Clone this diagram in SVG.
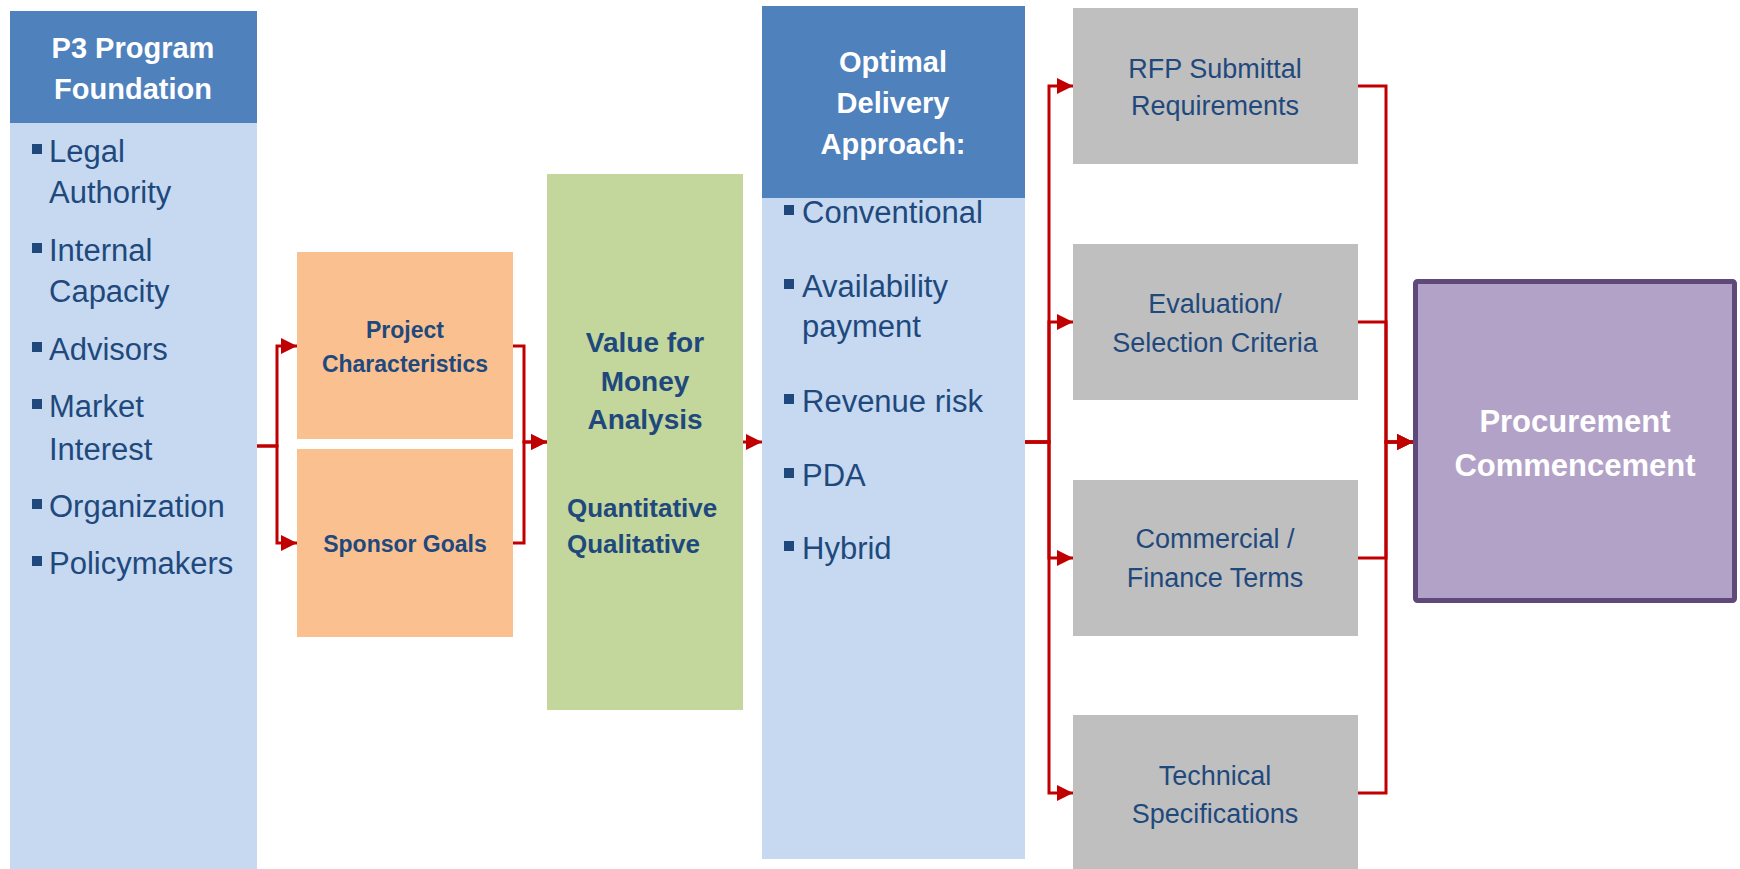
<svg xmlns="http://www.w3.org/2000/svg" width="1740" height="869" viewBox="0 0 1740 869">
  <style>
    text { font-family: "Liberation Sans", Arial, sans-serif; }
    .hdr { fill: #4f81bd; }
    .body { fill: #c6d9f1; }
    .orange { fill: #fac090; }
    .green { fill: #c3d69b; }
    .gray { fill: #bfbfbf; }
    .purple { fill: #b3a2c7; stroke: #5f497a; stroke-width: 5; }
    .wt { fill: #ffffff; font-weight: bold; text-anchor: middle; }
    .bl { fill: #1f497d; font-size: 31px; }
    .bb { fill: #1f497d; font-weight: bold; }
    .gt { fill: #1f497d; font-size: 27px; text-anchor: middle; }
    .sq { fill: #1f497d; }
    .conn { fill: none; stroke: #c00000; stroke-width: 3; stroke-linejoin: miter; }
  </style>
  <defs>
    <marker id="arr" markerUnits="userSpaceOnUse" markerWidth="17" markerHeight="17" refX="16" refY="8" orient="auto">
      <path d="M0,0 L16,8 L0,16 Z" fill="#c00000"/>
    </marker>
  </defs>
  <rect width="1740" height="869" fill="#ffffff"/>

  <g id="foundation">
    <rect class="hdr" x="10" y="11" width="247" height="112"/>
    <rect class="body" x="10" y="123" width="247" height="746"/>
    <text class="wt" font-size="29" x="133" y="58">P3 Program</text>
    <text class="wt" font-size="29" x="133" y="99">Foundation</text>
    <rect class="sq" x="32" y="144" width="10" height="10"/>
    <text class="bl" x="49" y="162">Legal</text>
    <text class="bl" x="49" y="203">Authority</text>
    <rect class="sq" x="32" y="243" width="10" height="10"/>
    <text class="bl" x="49" y="261">Internal</text>
    <text class="bl" x="49" y="302">Capacity</text>
    <rect class="sq" x="32" y="342" width="10" height="10"/>
    <text class="bl" x="49" y="360">Advisors</text>
    <rect class="sq" x="32" y="399" width="10" height="10"/>
    <text class="bl" x="49" y="417">Market</text>
    <text class="bl" x="49" y="460">Interest</text>
    <rect class="sq" x="32" y="499" width="10" height="10"/>
    <text class="bl" x="49" y="517">Organization</text>
    <rect class="sq" x="32" y="556" width="10" height="10"/>
    <text class="bl" x="49" y="574">Policymakers</text>
  </g>

  <g id="project-characteristics">
    <rect class="orange" x="297" y="252" width="216" height="187"/>
    <text class="bb" font-size="23" text-anchor="middle" x="405" y="338">Project</text>
    <text class="bb" font-size="23" text-anchor="middle" x="405" y="372">Characteristics</text>
  </g>

  <g id="sponsor-goals">
    <rect class="orange" x="297" y="449" width="216" height="188"/>
    <text class="bb" font-size="23" text-anchor="middle" x="405" y="552">Sponsor Goals</text>
  </g>

  <g id="value-for-money">
    <rect class="green" x="547" y="174" width="196" height="536"/>
    <text class="bb" font-size="28" text-anchor="middle" x="645" y="352">Value for</text>
    <text class="bb" font-size="28" text-anchor="middle" x="645" y="391">Money</text>
    <text class="bb" font-size="28" text-anchor="middle" x="645" y="429">Analysis</text>
    <text class="bb" font-size="26" x="567" y="517">Quantitative</text>
    <text class="bb" font-size="26" x="567" y="553">Qualitative</text>
  </g>

  <g id="delivery-approach">
    <rect class="hdr" x="762" y="6" width="263" height="192"/>
    <rect class="body" x="762" y="198" width="263" height="661"/>
    <text class="wt" font-size="29" x="893" y="72">Optimal</text>
    <text class="wt" font-size="29" x="893" y="113">Delivery</text>
    <text class="wt" font-size="29" x="893" y="154">Approach:</text>
    <rect class="sq" x="784" y="205" width="10" height="10"/>
    <text class="bl" x="802" y="223">Conventional</text>
    <rect class="sq" x="784" y="279" width="10" height="10"/>
    <text class="bl" x="802" y="297">Availability</text>
    <text class="bl" x="802" y="337">payment</text>
    <rect class="sq" x="784" y="394" width="10" height="10"/>
    <text class="bl" x="802" y="412">Revenue risk</text>
    <rect class="sq" x="784" y="468" width="10" height="10"/>
    <text class="bl" x="802" y="486">PDA</text>
    <rect class="sq" x="784" y="541" width="10" height="10"/>
    <text class="bl" x="802" y="559">Hybrid</text>
  </g>

  <g id="rfp-submittal">
    <rect class="gray" x="1073" y="8" width="285" height="156"/>
    <text class="gt" x="1215" y="78">RFP Submittal</text>
    <text class="gt" x="1215" y="115">Requirements</text>
  </g>

  <g id="evaluation-criteria">
    <rect class="gray" x="1073" y="244" width="285" height="156"/>
    <text class="gt" x="1215" y="313">Evaluation/</text>
    <text class="gt" x="1215" y="352">Selection Criteria</text>
  </g>

  <g id="commercial-terms">
    <rect class="gray" x="1073" y="480" width="285" height="156"/>
    <text class="gt" x="1215" y="548">Commercial /</text>
    <text class="gt" x="1215" y="587">Finance Terms</text>
  </g>

  <g id="technical-specs">
    <rect class="gray" x="1073" y="715" width="285" height="156"/>
    <text class="gt" x="1215" y="785">Technical</text>
    <text class="gt" x="1215" y="823">Specifications</text>
  </g>

  <g id="procurement">
    <rect class="purple" x="1415.5" y="281.5" width="319" height="319" rx="2"/>
    <text class="wt" font-size="31" x="1575" y="432">Procurement</text>
    <text class="wt" font-size="31" x="1575" y="476">Commencement</text>
  </g>

  <g id="connectors">
    <path class="conn" d="M257,446 H277 V346 H297" marker-end="url(#arr)"/>
    <path class="conn" d="M257,446 H277 V543 H297" marker-end="url(#arr)"/>
    <path class="conn" d="M513,346 H524 V442 H547" marker-end="url(#arr)"/>
    <path class="conn" d="M513,543 H524 V442 H547" marker-end="url(#arr)"/>
    <path class="conn" d="M743,442 H762" marker-end="url(#arr)"/>
    <path class="conn" d="M1025,442 H1049 V86 H1073" marker-end="url(#arr)"/>
    <path class="conn" d="M1025,442 H1049 V322 H1073" marker-end="url(#arr)"/>
    <path class="conn" d="M1025,442 H1049 V558 H1073" marker-end="url(#arr)"/>
    <path class="conn" d="M1025,442 H1049 V793 H1073" marker-end="url(#arr)"/>
    <path class="conn" d="M1358,86 H1386 V442 H1413" marker-end="url(#arr)"/>
    <path class="conn" d="M1358,322 H1386 V442 H1413" marker-end="url(#arr)"/>
    <path class="conn" d="M1358,558 H1386 V442 H1413" marker-end="url(#arr)"/>
    <path class="conn" d="M1358,793 H1386 V442 H1413" marker-end="url(#arr)"/>
  </g>
</svg>
